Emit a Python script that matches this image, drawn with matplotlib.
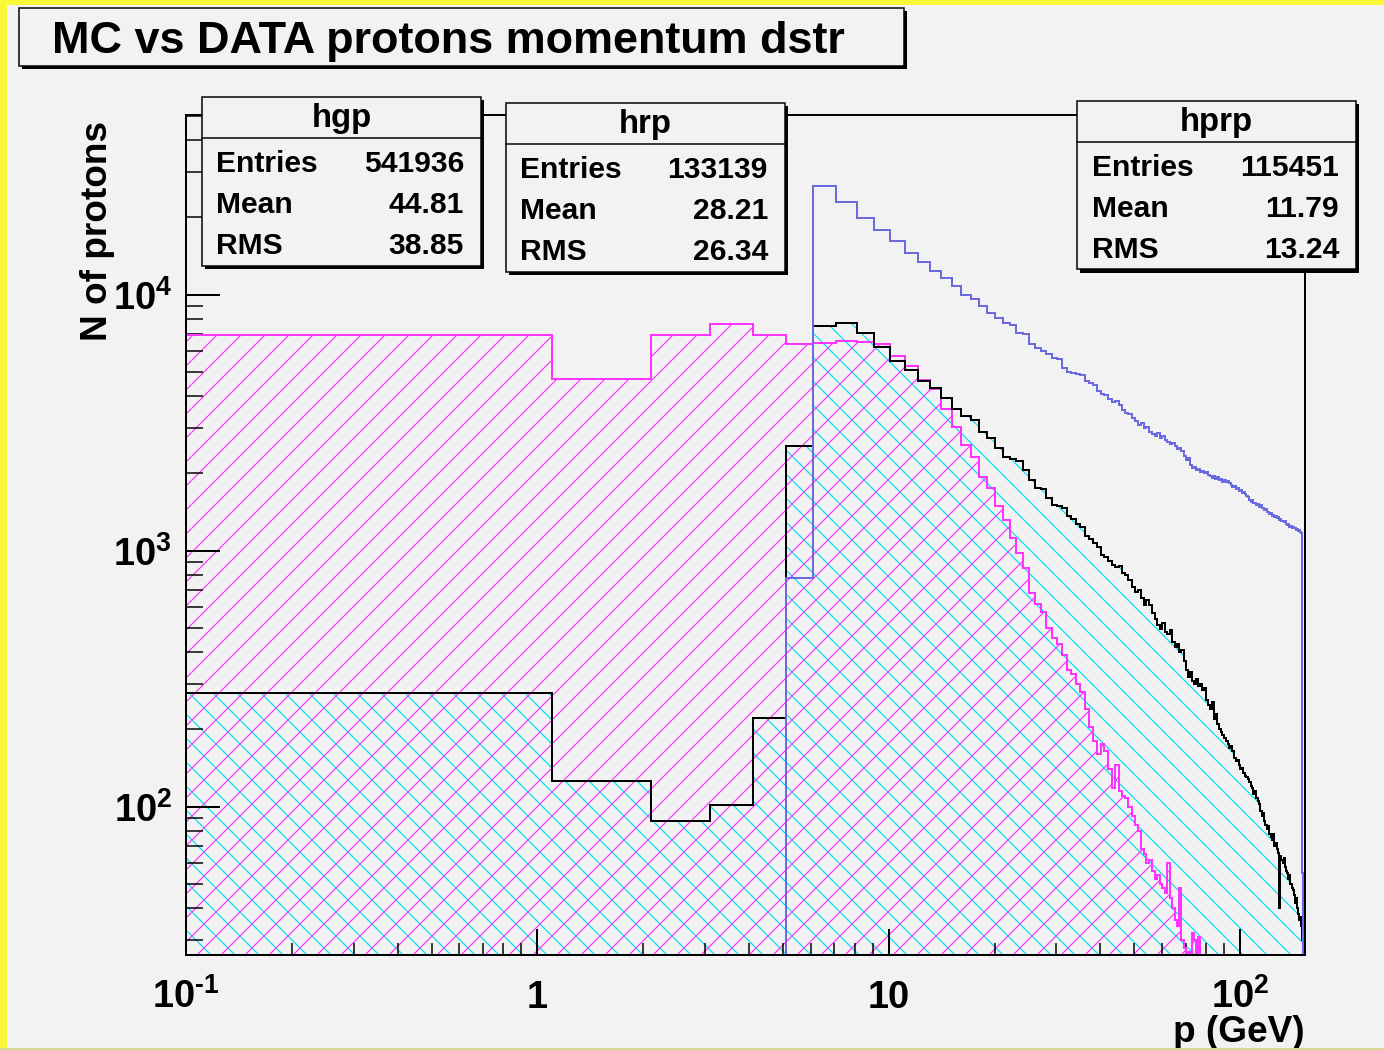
#!/usr/bin/env python3
"""MC vs DATA proton momentum distribution (ROOT-style log-log histograms)."""

import numpy as np
import matplotlib

matplotlib.use("Agg")
import matplotlib.pyplot as plt
from matplotlib.lines import Line2D
from matplotlib.patches import Rectangle
from matplotlib.ticker import FixedLocator, LogLocator, NullFormatter

W, H, DPI = 1384, 1050, 72
BG = "#f2f2f2"
MAGENTA = "#ff33ff"
CYAN = "#00e0f0"
BLUE = "#6b6bdf"

# bins of width 1 GeV starting at 0.1 GeV
EDGES = np.arange(0.1, 151.2, 1.0)

# pink, "/" hatched
hgp_counts = [
    6950, 4665, 6950, 7640, 6950, 6385, 6490, 6610, 6505, 6385,   # 0-9
    5770, 5270, 4635, 4275, 3565, 3050, 2580, 2322, 1940, 1760,   # 10-19
    1490, 1315, 1120, 975, 855, 683, 620, 575, 500, 455,          # 20-29
    430, 390, 340, 330, 300, 280, 240, 205, 180, 160,             # 30-39
    175, 165, 140, 118, 145, 115, 110, 108, 100, 92,              # 40-49
    85, 80, 68, 65, 60, 62, 56, 52, 54, 50,                       # 50-59
    48, 46, 60, 44, 40, 36, 34, 48, 30, 28,                       # 60-69
    0, 27, 0, 32, 30, 0, 31, 0, 0, 0,                             # 70-79
    0, 0, 0, 0, 0, 0, 0, 0, 0, 0,                                 # 80-89
    0, 0, 0, 0, 0, 0, 0, 0, 0, 0,                                 # 90-99
    0, 0, 0, 0, 0, 0, 0, 0, 0, 0,                                 # 100-109
    0, 0, 0, 0, 0, 0, 0, 0, 0, 0,                                 # 110-119
    0, 0, 0, 0, 0, 0, 0, 0, 0, 0,                                 # 120-129
    0, 0, 0, 0, 0, 0, 0, 0, 0, 0,                                 # 130-139
    0, 0, 0, 0, 0, 0, 0, 0, 0, 0,                                 # 140-149
    0,                                                            # 150
]

# black line, cyan "\" hatched
hrp_counts = [
    278, 126, 88, 101, 221, 2560, 7540, 7760, 7050, 6250,         # 0-9
    5500, 5070, 4590, 4310, 3940, 3570, 3340, 3240, 2900, 2760,   # 10-19
    2520, 2320, 2270, 2240, 2060, 1880, 1760, 1740, 1600, 1510,   # 20-29
    1490, 1470, 1360, 1330, 1270, 1240, 1140, 1110, 1070, 1030,   # 30-39
    960, 940, 910, 880, 860, 870, 820, 800, 770, 720,             # 40-49
    690, 700, 650, 610, 640, 610, 570, 540, 510, 495,             # 50-59
    520, 480, 470, 490, 440, 420, 430, 400, 410, 370,             # 60-69
    340, 320, 335, 310, 300, 315, 295, 300, 285, 290,             # 70-79
    260, 250, 240, 255, 220, 230, 210, 200, 195, 190,             # 80-89
    185, 180, 175, 170, 172, 165, 155, 150, 152, 145,             # 90-99
    140, 142, 135, 132, 130, 128, 125, 120, 118, 112,             # 100-109
    115, 108, 105, 102, 96, 92, 94, 88, 85, 82,                   # 110-119
    84, 78, 76, 74, 78, 70, 72, 68, 66, 40,                       # 120-129
    64, 62, 60, 63, 58, 56, 55, 52, 54, 50,                       # 130-139
    48, 47, 45, 42, 44, 40, 38, 36, 37, 34,                       # 140-149
    30,                                                           # 150
]

# blue line, no fill
hprp_counts = [
    0, 0, 0, 0, 0, 783, 26600, 22970, 19850, 17870,              # 0-9
    16180, 14550, 13400, 12390, 11570, 10790, 10000, 9575, 9020, 8500,  # 10-19
    8100, 7750, 7600, 7100, 7000, 6400, 6200, 6000, 5850, 5650,  # 20-29
    5600, 5150, 5000, 4950, 4900, 4850, 4600, 4500, 4450, 4200,  # 30-39
    4100, 4050, 3900, 3800, 3850, 3700, 3550, 3450, 3400, 3300,  # 40-49
    3200, 3100, 3150, 3000, 3050, 2900, 2850, 2800, 2880, 2750,  # 50-59
    2800, 2700, 2650, 2600, 2620, 2550, 2500, 2520, 2450, 2350,  # 60-69
    2250, 2300, 2150, 2100, 2120, 2060, 2080, 2020, 2050, 2000,  # 70-79
    2030, 1980, 1960, 1920, 1950, 1900, 1930, 1880, 1900, 1860,  # 80-89
    1890, 1850, 1870, 1830, 1800, 1770, 1790, 1740, 1760, 1710,  # 90-99
    1730, 1680, 1700, 1660, 1640, 1620, 1580, 1550, 1570, 1530,  # 100-109
    1540, 1500, 1520, 1480, 1500, 1460, 1470, 1440, 1450, 1420,  # 110-119
    1410, 1390, 1400, 1370, 1380, 1350, 1360, 1340, 1350, 1320,  # 120-129
    1330, 1300, 1310, 1290, 1300, 1270, 1260, 1265, 1240, 1250,  # 130-139
    1230, 1235, 1220, 1225, 1200, 1210, 1190, 1200, 1180, 1170,  # 140-149
    55,                                                          # 150
]

STATS = [
    # name, entries, mean, rms, box left/top in px
    ("hgp", "541936", "44.81", "38.85", 202, 97),
    ("hrp", "133139", "28.21", "26.34", 506, 103),
    ("hprp", "115451", "11.79", "13.24", 1077, 101),
]

XMIN, XMAX = 0.1, 153
YMIN, YMAX = 26.3, 50500

plt.rcParams["font.family"] = ["Liberation Sans", "DejaVu Sans"]
plt.rcParams["font.weight"] = "bold"
plt.rcParams["axes.labelweight"] = "bold"
plt.rcParams["mathtext.fontset"] = "custom"
plt.rcParams["mathtext.rm"] = "Liberation Sans:bold"
plt.rcParams["mathtext.it"] = "Liberation Sans:bold:italic"
plt.rcParams["mathtext.bf"] = "Liberation Sans:bold"
plt.rcParams["mathtext.default"] = "rm"
plt.rcParams["hatch.linewidth"] = 1.2


def fx(px):
    return px / W


def fy(py):
    return 1 - py / H


def add_box(fig, left, top, width, height, lw=1.5):
    fig.add_artist(Rectangle((fx(left + 3), fy(top + height + 3)), width / W, height / H,
                             transform=fig.transFigure, facecolor="black",
                             edgecolor="none", zorder=10))
    fig.add_artist(Rectangle((fx(left), fy(top + height)), width / W, height / H,
                             transform=fig.transFigure, facecolor=BG,
                             edgecolor="black", lw=lw, zorder=11))


def stat_box(fig, name, entries, mean, rms, left, top):
    width, height = 279, 168.5
    add_box(fig, left, top, width, height)
    fig.add_artist(Line2D([fx(left), fx(left + width)], [fy(top + 40.5)] * 2,
                          transform=fig.transFigure, color="black", lw=1.5, zorder=12))
    fig.text(fx(left + width / 2), fy(top + 30.5), name, ha="center", va="baseline",
             fontsize=33, zorder=13)
    for row, (label, value) in enumerate([("Entries", entries), ("Mean", mean), ("RMS", rms)]):
        y = fy(top + 74.5 + 41.3 * row)
        fig.text(fx(left + 14.5), y, label, ha="left", va="baseline", fontsize=30, zorder=13)
        fig.text(fx(left + width - 17), y, value, ha="right", va="baseline", fontsize=30, zorder=13)


def main() -> None:
    fig = plt.figure(figsize=(W / DPI, H / DPI), dpi=DPI, facecolor=BG)
    ax = fig.add_axes([fx(186), fy(955), (1305 - 186) / W, (955 - 114.5) / H])
    ax.set_facecolor(BG)
    ax.set_xscale("log")
    ax.set_yscale("log")
    ax.set_xlim(XMIN, XMAX)
    ax.set_ylim(YMIN, YMAX)

    pink = np.maximum(np.array(hgp_counts, dtype=float), YMIN)
    black = np.maximum(np.array(hrp_counts, dtype=float), YMIN)
    blue = np.maximum(np.array(hprp_counts, dtype=float), YMIN)

    # hatched fills
    ax.stairs(black, EDGES, baseline=YMIN, fill=True, facecolor="none",
              edgecolor=CYAN, hatch="\\", linewidth=0, zorder=1)
    ax.stairs(pink, EDGES, baseline=YMIN, fill=True, facecolor="none",
              edgecolor=MAGENTA, hatch="/", linewidth=0, zorder=1.1)
    # outlines
    ax.stairs(pink, EDGES, baseline=YMIN, fill=False, color=MAGENTA, linewidth=2, zorder=2)
    ax.stairs(black, EDGES, baseline=YMIN, fill=False, color="black", linewidth=2, zorder=2.1)
    ax.stairs(blue, EDGES, baseline=YMIN, fill=False, color=BLUE, linewidth=2, zorder=2.2)

    for spine in ax.spines.values():
        spine.set_linewidth(2)
        spine.set_zorder(3)

    ax.xaxis.set_major_locator(FixedLocator([0.1, 1, 10, 100]))
    ax.set_xticklabels(["$10^{\u20101}$", "1", "10", r"$10^{2}$"])
    ax.xaxis.set_minor_locator(LogLocator(base=10, subs=np.arange(2, 10), numticks=20))
    ax.xaxis.set_minor_formatter(NullFormatter())
    ax.yaxis.set_major_locator(FixedLocator([100, 1000, 10000]))
    ax.set_yticklabels([r"$10^{2}$", r"$10^{3}$", r"$10^{4}$"])
    ax.yaxis.set_minor_locator(LogLocator(base=10, subs=np.arange(2, 10), numticks=20))
    ax.yaxis.set_minor_formatter(NullFormatter())

    ax.tick_params(axis="x", which="major", direction="in", length=26, width=2,
                   top=False, pad=53, labelsize=38)
    ax.tick_params(axis="x", which="minor", direction="in", length=12, width=1.5, top=False)
    ax.tick_params(axis="y", which="major", direction="in", length=34, width=2,
                   right=False, pad=14, labelsize=38)
    ax.tick_params(axis="y", which="minor", direction="in", length=17, width=1.5, right=False)
    plt.setp(ax.get_xticklabels(), va="baseline")

    ax.set_xlabel("p (GeV)", fontsize=37, fontweight="bold", ha="right", va="baseline")
    ax.xaxis.set_label_coords(1.0, (955 - 1042) / 840.5)
    ax.set_ylabel("N of protons", fontsize=37, fontweight="bold", ha="center", va="baseline")
    ax.yaxis.set_label_coords((107 - 186) / 1119, (955 - 231) / 840.5)

    # title box
    add_box(fig, 19, 8, 885, 58)
    fig.text(fx(52), fy(53.5), "MC vs DATA protons momentum dstr", ha="left",
             va="baseline", fontsize=45, zorder=13)

    for name, entries, mean, rms, left, top in STATS:
        stat_box(fig, name, entries, mean, rms, left, top)

    # yellow window frame of the screenshot
    fig.add_artist(Rectangle((0, fy(5)), 1, 5 / H, transform=fig.transFigure,
                             facecolor="#f8f838", edgecolor="none", zorder=20))
    fig.add_artist(Rectangle((0, 0), 7 / W, 1, transform=fig.transFigure,
                             facecolor="#f8f838", edgecolor="none", zorder=20))
    fig.add_artist(Rectangle((0, 0), 1, 2 / H, transform=fig.transFigure,
                             facecolor="#d8d890", edgecolor="none", zorder=20))

    fig.savefig("out.png", dpi=DPI, facecolor=BG)
    plt.close(fig)


if __name__ == "__main__":
    main()
